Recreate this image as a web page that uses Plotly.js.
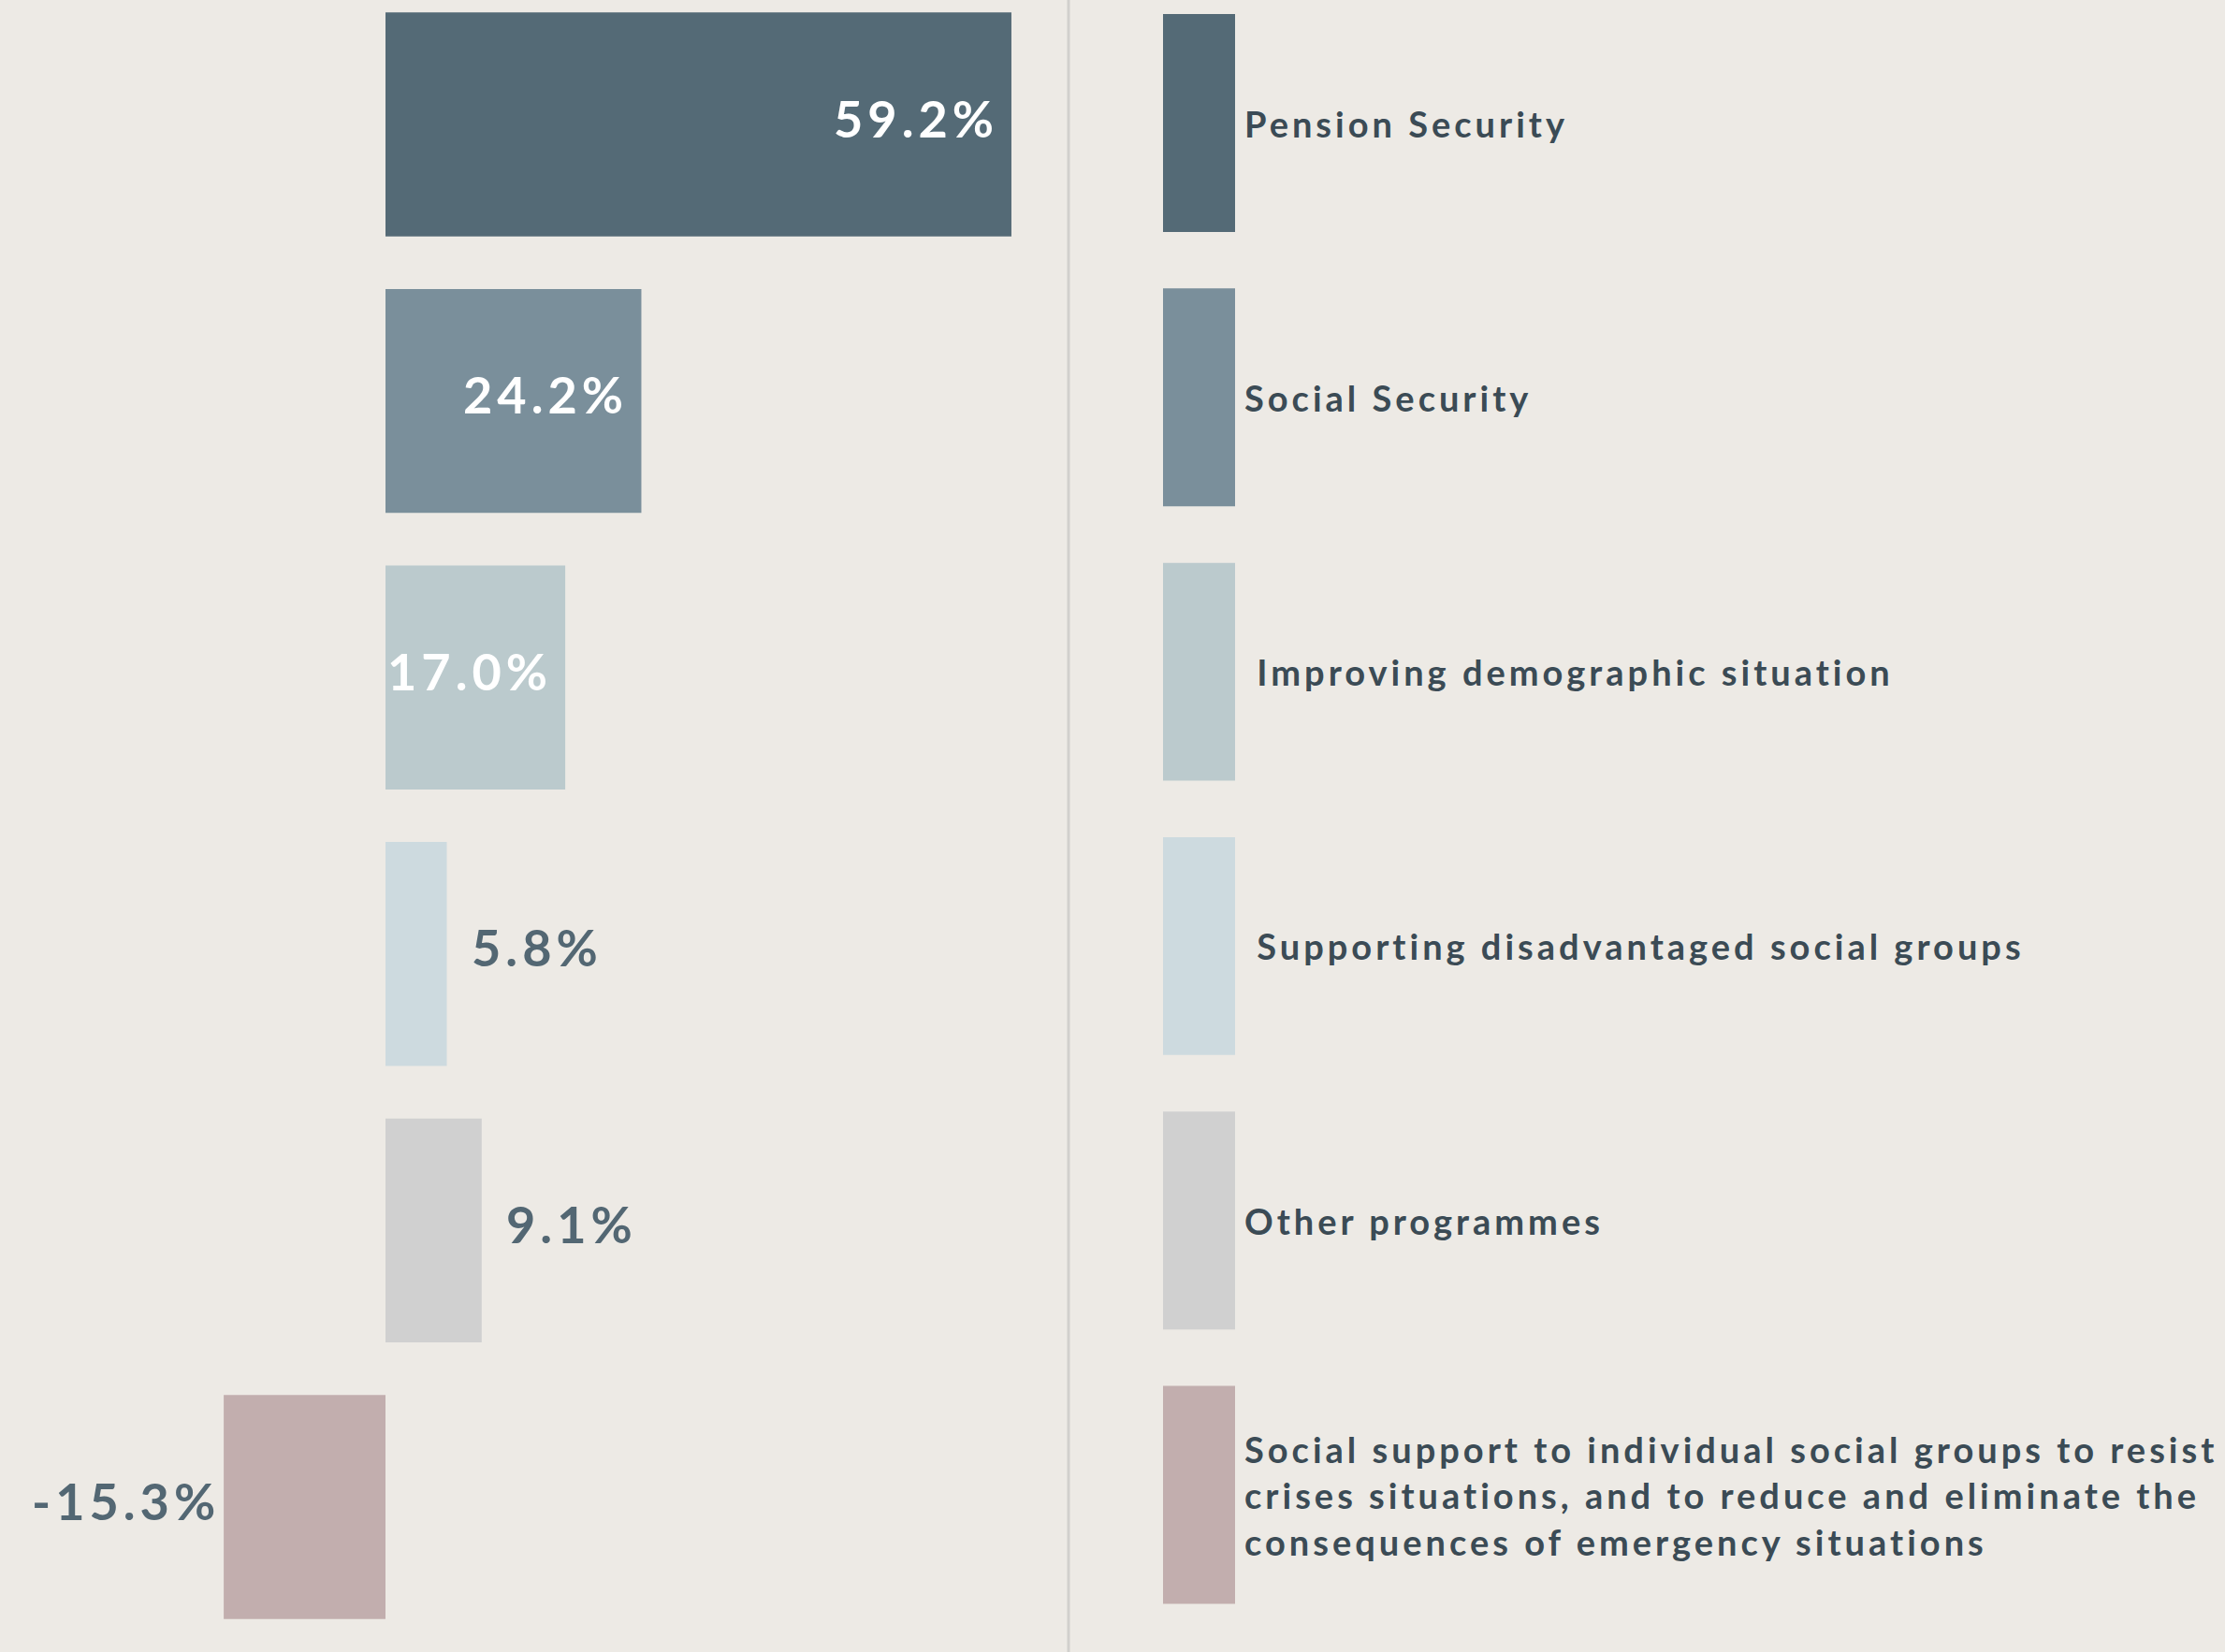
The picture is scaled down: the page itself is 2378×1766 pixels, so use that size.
<!DOCTYPE html>
<html>
<head>
<meta charset="utf-8">
<script src="https://cdn.plot.ly/plotly-3.0.1.min.js"></script>
<style>
html,body{margin:0;padding:0;background:#edeae5;}
#chart{width:2378px;height:1766px;}
</style>
</head>
<body>
<div id="chart"></div>
<script>
// ---- data ----
const categories = [
  "Pension Security",
  "Social Security",
  "\u00a0Improving demographic situation",
  "\u00a0Supporting disadvantaged social groups",
  "Other programmes",
  "Social support to individual social groups to resist<br>crises situations, and to reduce and eliminate the<br>consequences of emergency situations"
];
const values = [59.2, 24.2, 17.0, 5.8, 9.1, -15.3];
const colors = ["#546a76", "#7a8f9b", "#bbcacd", "#cddadf", "#d0d0d0", "#c2aeae"];

// ---- chart ----
const W = 2378, H = 1766;
const zeroPx = 412, pxPerUnit = 11.3;
const xRange = [-zeroPx / pxPerUnit, (W - zeroPx) / pxPerUnit];
const idx = categories.map((_, i) => i);

// bar rows
const spacing = 295.6, firstCenter = 133;
const yRange = [(H - firstCenter) / spacing, -firstCenter / spacing];
// legend rows
const spacing2 = 293.3, firstCenter2 = 131.5;
const y2Range = [(H - firstCenter2) / spacing2, -firstCenter2 / spacing2];

const bars = {
  type: "bar", orientation: "h",
  x: values, y: idx,
  marker: {color: colors, line: {width: 0}},
  width: 0.81, hoverinfo: "skip",
  xaxis: "x", yaxis: "y"
};
const swatches = {
  type: "bar", orientation: "h",
  x: idx.map(() => 1), y: idx,
  marker: {color: colors, line: {width: 0}},
  width: 0.794, hoverinfo: "skip",
  xaxis: "x2", yaxis: "y2"
};

const FONT = "Lato, 'Open Sans', sans-serif";
function spaced(txt, ls) {
  return txt.split("<br>").map(s => "<span style='letter-spacing:" + ls + "px'>" + s + "</span>").join("<br>");
}

const annotations = [];
values.forEach((v, i) => {
  const inside = v > 15;
  const label = v.toFixed(1) + "%";
  annotations.push({
    x: v, y: i, xref: "x", yref: "y",
    text: spaced(label, 5), showarrow: false,
    xanchor: inside ? "right" : (v >= 0 ? "left" : "right"),
    xshift: inside ? -12 : (v >= 0 ? 24 : -2),
    yshift: 7,
    font: {family: FONT, size: 54, weight: 700,
           color: inside ? "#ffffff" : "#536773"}
  });
  annotations.push({
    x: 1328 / W, y: i, xref: "paper", yref: "y2",
    text: spaced(categories[i], 4), showarrow: false,
    xanchor: "left", align: "left",
    font: {family: FONT, size: 38, weight: 700, color: "#3b4b55"}
  });
});

const layout = {
  width: W, height: H,
  margin: {l: 0, r: 0, t: 0, b: 0, pad: 0},
  paper_bgcolor: "#edeae5",
  plot_bgcolor: "rgba(0,0,0,0)",
  showlegend: false,
  xaxis: {domain: [0, 1], range: xRange, visible: false, zeroline: false, showgrid: false},
  xaxis2: {domain: [1243 / W, 1320 / W], range: [0, 1], visible: false, anchor: "y2", zeroline: false, showgrid: false},
  yaxis: {domain: [0, 1], range: yRange, visible: false, zeroline: false, showgrid: false},
  yaxis2: {domain: [0, 1], range: y2Range, visible: false, anchor: "x2", zeroline: false, showgrid: false},
  shapes: [{
    type: "line", xref: "paper", yref: "paper",
    x0: 1142 / W, x1: 1142 / W, y0: 0, y1: 1,
    line: {color: "#d1d0cd", width: 3}
  }],
  annotations: annotations
};

Plotly.newPlot("chart", [bars, swatches], layout, {displayModeBar: false, staticPlot: true});
</script>
</body>
</html>
